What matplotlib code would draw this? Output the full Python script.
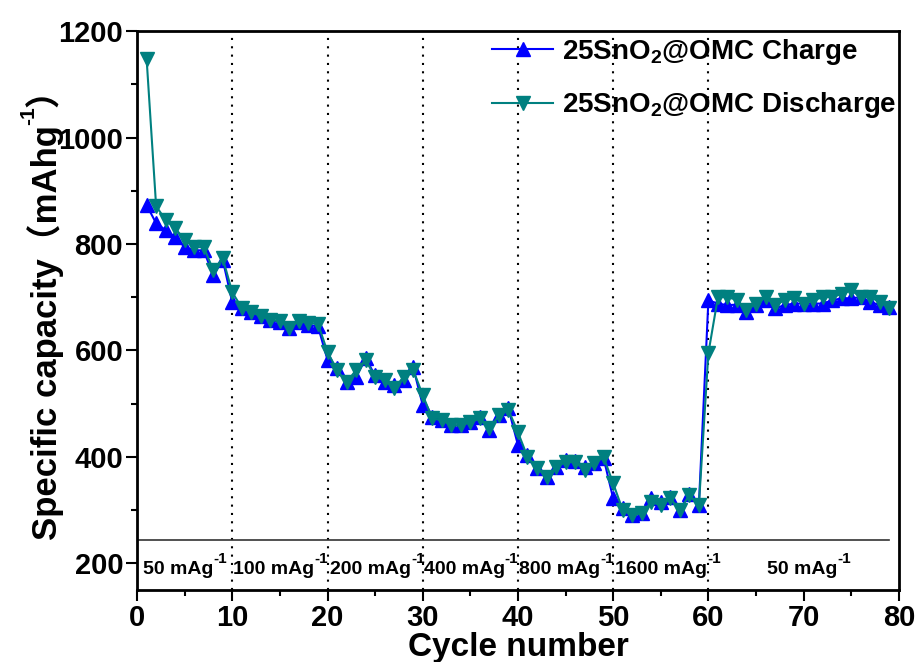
import matplotlib
matplotlib.use("Agg")
import matplotlib.pyplot as plt

# Data
cycles = list(range(1, 80))
charge = [873, 839, 826, 813, 794, 788, 788, 741, 770, 690,
          680, 672, 664, 657, 653, 642, 653, 648, 645, 582,
          566, 540, 550, 585, 553, 540, 535, 544, 568, 497,
          474, 469, 459, 459, 465, 474, 450, 478, 491, 422,
          403, 379, 362, 381, 394, 392, 381, 388, 397, 322,
          303, 290, 294, 322, 315, 324, 300, 331, 309, 694,
          688, 685, 686, 673, 685, 694, 679, 685, 688, 688,
          688, 688, 694, 698, 698, 700, 691, 685, 681]
discharge = [1148, 871, 845, 830, 807, 794, 794, 751, 773, 709,
             680, 672, 664, 657, 655, 642, 655, 651, 650, 597,
             563, 540, 563, 582, 550, 544, 529, 550, 563, 516,
             472, 469, 459, 459, 465, 472, 454, 478, 488, 446,
             400, 379, 362, 381, 390, 390, 375, 388, 399, 350,
             300, 290, 294, 315, 309, 322, 300, 328, 309, 595,
             700, 700, 695, 676, 688, 700, 685, 694, 698, 688,
             694, 700, 700, 706, 713, 700, 700, 691, 679]

rate_bounds = [10, 20, 30, 40, 50, 60]
rate_labels = ["50 mAg", "100 mAg", "200 mAg", "400 mAg", "800 mAg", "1600 mAg", "50 mAg"]
rate_label_x = [0.6, 10.1, 20.3, 30.1, 40.1, 50.2, 66.2]

plt.rcParams['font.family'] = ['Liberation Sans', 'Noto Sans CJK SC', 'DejaVu Sans']
plt.rcParams['font.weight'] = 'bold'
plt.rcParams['mathtext.fontset'] = 'custom'
plt.rcParams['mathtext.rm'] = 'Liberation Sans:bold'
plt.rcParams['mathtext.bf'] = 'Liberation Sans:bold'
plt.rcParams['mathtext.it'] = 'Liberation Sans:bold'

fig = plt.figure(figsize=(9.2, 6.62), dpi=100)
ax = fig.add_axes([0.149, 0.109, 0.828, 0.844])

ax.plot(cycles, charge, color='#0000ff', marker='^', markersize=10, lw=1.5,
        label=r'25SnO$_{2}$@OMC Charge')
ax.plot(cycles, discharge, color='#008080', marker='v', markersize=10, lw=1.5,
        label=r'25SnO$_{2}$@OMC Discharge')

for b in rate_bounds:
    ax.axvline(b, color='black', lw=1.5, linestyle=(0, (1, 3)), zorder=0)

ax.plot([0, 79], [243, 243], color='#333333', lw=1.2)

# current density labels with raised "-1"
for lx, lab in zip(rate_label_x, rate_labels):
    t = ax.text(lx, 188, lab, fontsize=14, fontweight='bold', ha='left', va='center')
    ax.annotate('-1', xy=(1.0, 0.72), xycoords=t, fontsize=11, fontweight='bold',
                ha='left', va='bottom')

ax.set_xlim(0, 80)
ax.set_ylim(150, 1200)
ax.set_xticks(range(0, 81, 10))
ax.set_xticks(range(5, 80, 10), minor=True)
ax.set_yticks(range(200, 1201, 200))
ax.set_yticks(range(300, 1200, 200), minor=True)

ax.tick_params(which='major', direction='out', length=8, width=1.5, labelsize=21, pad=2)
ax.tick_params(which='minor', direction='out', length=4.5, width=1.5)
for lab in ax.get_xticklabels() + ax.get_yticklabels():
    lab.set_fontweight('bold')
for s in ax.spines.values():
    s.set_linewidth(2)

ax.set_xlabel('Cycle number', fontsize=24, fontweight='bold', labelpad=0)

# y label built from pieces so the full-width brackets keep a CJK font
yl = fig.text(0.049, 0.184, 'Specific capacity（mAhg', rotation=90, fontsize=25,
              fontweight='bold', ha='center', va='bottom')
ysup = ax.annotate('-1', xy=(0.05, 1.0), xycoords=yl, rotation=90, fontsize=15,
                   fontweight='bold', ha='center', va='bottom', annotation_clip=False)
ax.annotate('）', xy=(0.5, 1.0), xycoords=(yl, ysup), rotation=90, fontsize=25,
            fontweight='bold', ha='center', va='bottom', annotation_clip=False)

ax.legend(loc='upper left', bbox_to_anchor=(0.459, 1.0), frameon=False,
          fontsize=20, handlelength=2.2, handletextpad=0.3, borderpad=0.2,
          borderaxespad=0, labelspacing=0.85)

fig.savefig('out.png', dpi=100)
